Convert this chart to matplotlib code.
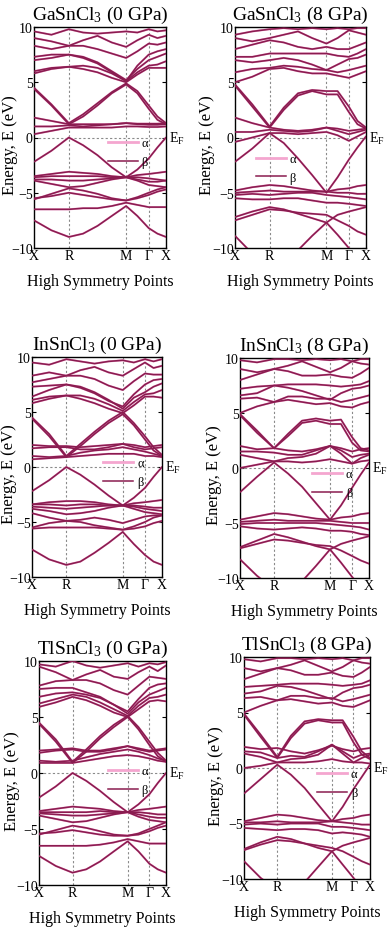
import matplotlib
matplotlib.use("Agg")
import matplotlib.pyplot as plt
from matplotlib.lines import Line2D

plt.rcParams['font.family'] = ['Liberation Serif', 'DejaVu Serif']
plt.rcParams['mathtext.fontset'] = 'custom'
plt.rcParams['mathtext.rm'] = 'Liberation Serif'
plt.rcParams['mathtext.it'] = 'Liberation Serif:italic'

# k-path sample positions (fraction of path) and high-symmetry labels
k_path = [0.0, 0.132, 0.264, 0.372, 0.481, 0.589, 0.698, 0.783, 0.869, 0.935, 1.0]
hs_pos = [0.0, 0.264, 0.698, 0.869, 1.0]
hs_labels = ['X', 'R', 'M', 'Γ', 'X']
yticks = [-10, -5, 0, 5, 10]

titles = ['GaSnCl$_3$ (0 GPa)', 'GaSnCl$_3$ (8 GPa)',
          'InSnCl$_3$ (0 GPa)', 'InSnCl$_3$ (8 GPa)',
          'TlSnCl$_3$ (0 GPa)', 'TlSnCl$_3$ (8 GPa)']

ga0_bands = [
    [-7.5, -8.4, -9.0, -8.7, -8.0, -7.1, -6.2, -7.1, -8.2, -8.7, -9.0],
    [-6.5, -6.5, -6.5, -6.4, -6.4, -6.2, -5.9, -6.1, -6.3, -6.3, -6.3],
    [-5.6, -5.1, -4.6, -4.8, -5.1, -5.5, -5.7, -5.4, -5.0, -4.7, -4.5],
    [-5.5, -5.3, -5.0, -5.2, -5.4, -5.6, -5.7, -5.5, -5.2, -4.9, -4.7],
    [-3.9, -4.2, -4.5, -4.4, -4.1, -3.8, -3.6, -3.9, -4.3, -4.4, -4.5],
    [-3.8, -3.8, -3.9, -3.9, -3.8, -3.7, -3.6, -3.8, -4.0, -4.0, -3.9],
    [-3.6, -3.5, -3.5, -3.5, -3.5, -3.6, -3.6, -3.6, -3.7, -3.8, -3.9],
    [-3.5, -3.3, -3.1, -3.2, -3.3, -3.5, -3.6, -3.4, -3.3, -3.2, -3.1],
    [-2.2, -1.2, 0.0, -0.7, -1.6, -2.7, -3.6, -2.9, -1.9, -0.9, 0.0],
    [0.3, 0.6, 0.9, 0.9, 0.9, 0.9, 1.0, 1.0, 0.95, 0.95, 1.0],
    [1.0, 1.0, 1.1, 1.0, 1.1, 1.2, 1.3, 1.2, 1.15, 1.15, 1.2],
    [1.8, 1.5, 1.2, 1.2, 1.2, 1.2, 1.3, 1.25, 1.25, 1.25, 1.3],
    [4.4, 2.9, 1.2, 1.9, 2.9, 4.0, 4.8, 4.0, 2.6, 1.6, 1.2],
    [4.5, 3.0, 1.3, 2.1, 3.1, 4.1, 4.9, 4.2, 2.9, 1.9, 1.3],
    [5.8, 6.2, 6.4, 6.2, 5.9, 5.4, 5.0, 5.7, 6.3, 6.3, 6.3],
    [6.0, 6.3, 6.4, 6.5, 6.3, 5.8, 5.1, 5.9, 6.5, 6.6, 6.9],
    [7.0, 7.2, 7.5, 7.3, 6.8, 6.0, 5.2, 6.2, 7.0, 7.3, 7.6],
    [7.3, 7.5, 7.5, 7.2, 6.7, 5.9, 5.1, 6.5, 7.5, 7.8, 8.0],
    [8.3, 8.0, 8.3, 8.3, 8.0, 7.6, 7.2, 7.8, 8.5, 8.4, 8.6],
    [9.0, 8.7, 8.3, 8.8, 9.2, 8.6, 8.2, 8.8, 9.3, 9.0, 9.2],
    [9.6, 9.3, 9.8, 9.5, 9.4, 9.5, 9.6, 9.5, 9.8, 9.6, 9.7],
]

ga8_bands = [
    [-8.9, -10.5, -11.5, -11.0, -10.2, -8.9, -7.7, -8.8, -10.0, -10.8, -11.5],
    [-7.5, -7.0, -6.5, -6.6, -6.8, -6.9, -7.0, -7.5, -8.0, -8.5, -8.8],
    [-7.2, -6.7, -6.3, -6.5, -6.9, -7.3, -7.7, -7.0, -6.7, -6.5, -6.3],
    [-5.5, -5.6, -5.6, -5.5, -5.5, -5.7, -5.9, -5.9, -6.0, -6.1, -6.2],
    [-5.2, -5.1, -5.2, -5.1, -5.0, -5.0, -5.2, -5.3, -5.4, -5.5, -5.6],
    [-5.0, -4.9, -4.8, -4.9, -4.9, -4.9, -4.9, -5.0, -5.0, -5.1, -5.1],
    [-4.8, -4.5, -4.3, -4.4, -4.6, -4.8, -4.9, -4.7, -4.6, -4.4, -4.3],
    [-2.2, -1.0, 0.4, -0.5, -1.9, -3.4, -5.0, -3.6, -2.0, -0.9, 0.1],
    [-0.4, 0.0, 0.4, 0.4, 0.3, 0.4, 0.5, 0.2, -0.3, 0.1, 0.5],
    [0.5, 0.5, 0.7, 0.6, 0.5, 0.6, 0.9, 0.6, 0.3, 0.5, 0.7],
    [1.8, 1.3, 0.9, 0.7, 0.6, 0.7, 0.9, 0.8, 0.6, 0.7, 0.8],
    [4.7, 2.8, 0.9, 2.5, 3.8, 4.2, 3.9, 3.9, 2.3, 1.2, 0.8],
    [4.8, 3.0, 1.0, 2.7, 4.0, 4.3, 4.2, 4.2, 2.8, 1.5, 0.9],
    [5.0, 5.5, 6.2, 6.3, 6.0, 5.8, 5.8, 5.6, 5.4, 5.7, 6.0],
    [5.9, 6.2, 6.3, 6.5, 6.4, 6.2, 6.1, 5.9, 6.1, 6.3, 6.5],
    [7.0, 6.8, 7.0, 7.2, 7.0, 6.6, 6.1, 6.6, 7.1, 7.2, 7.5],
    [7.3, 7.3, 7.6, 7.6, 7.6, 7.6, 7.6, 7.4, 7.3, 7.6, 8.0],
    [8.0, 8.4, 8.8, 8.6, 8.2, 8.0, 8.2, 8.0, 8.0, 8.3, 8.6],
    [9.0, 8.7, 9.0, 9.3, 9.6, 9.0, 8.5, 9.0, 9.7, 9.5, 9.3],
    [9.3, 9.6, 9.8, 9.9, 9.8, 9.9, 9.8, 9.9, 9.8, 9.9, 9.9],
]

in0_bands = [
    [-7.5, -8.4, -8.9, -8.6, -7.8, -6.9, -5.9, -7.0, -8.0, -8.6, -8.9],
    [-5.5, -5.1, -4.9, -5.0, -5.3, -5.5, -5.7, -5.6, -5.4, -5.1, -4.9],
    [-5.6, -5.5, -5.5, -5.5, -5.5, -5.6, -5.7, -5.4, -5.0, -4.6, -4.4],
    [-4.2, -4.6, -4.9, -4.8, -4.6, -4.8, -5.1, -4.8, -4.5, -4.4, -4.4],
    [-3.8, -4.0, -4.3, -4.2, -4.0, -3.7, -3.5, -3.8, -4.1, -4.2, -4.3],
    [-3.6, -3.7, -3.8, -3.7, -3.6, -3.5, -3.5, -3.6, -3.8, -3.9, -4.0],
    [-3.4, -3.4, -3.5, -3.4, -3.4, -3.5, -3.5, -3.5, -3.6, -3.7, -3.7],
    [-3.4, -3.2, -3.1, -3.1, -3.2, -3.4, -3.5, -3.3, -3.2, -3.1, -3.0],
    [-2.2, -1.2, 0.0, -0.7, -1.6, -2.6, -3.5, -2.8, -1.9, -0.9, 0.0],
    [0.7, 0.8, 0.9, 1.0, 1.1, 1.2, 1.2, 1.2, 1.0, 1.0, 0.9],
    [1.0, 0.9, 1.0, 1.3, 1.5, 1.6, 1.8, 1.6, 1.4, 1.2, 1.0],
    [1.7, 1.8, 1.8, 1.6, 1.6, 1.8, 2.1, 1.8, 1.6, 1.7, 1.8],
    [2.0, 1.9, 1.9, 1.8, 1.9, 2.0, 2.1, 2.0, 1.8, 1.9, 2.0],
    [4.4, 2.8, 0.9, 1.9, 3.0, 4.0, 4.8, 3.8, 2.5, 1.5, 1.0],
    [4.5, 3.0, 1.0, 2.1, 3.2, 4.2, 5.0, 4.0, 2.8, 1.8, 1.1],
    [5.8, 6.2, 6.5, 6.2, 5.8, 5.3, 4.9, 5.6, 6.4, 6.4, 6.3],
    [6.1, 6.4, 6.5, 6.5, 6.2, 5.7, 5.1, 5.9, 6.6, 6.7, 7.0],
    [6.4, 7.0, 7.5, 7.3, 6.8, 6.1, 5.3, 6.3, 6.8, 7.3, 7.6],
    [7.3, 7.4, 7.5, 7.2, 6.7, 6.0, 5.5, 6.6, 7.5, 7.9, 8.0],
    [7.7, 8.0, 8.3, 8.3, 8.0, 7.4, 7.0, 7.8, 8.5, 8.4, 8.4],
    [8.3, 8.6, 8.3, 8.8, 9.1, 8.6, 8.3, 8.9, 9.5, 9.0, 9.2],
    [9.5, 9.3, 9.8, 9.6, 9.4, 9.6, 9.7, 9.5, 9.8, 9.6, 9.8],
]

in8_bands = [
    [-8.3, -9.8, -11.0, -11.0, -10.3, -8.9, -7.4, -8.6, -9.9, -10.8, -11.5],
    [-7.3, -6.9, -6.5, -6.6, -6.8, -7.0, -7.1, -7.5, -8.0, -8.4, -8.7],
    [-7.2, -6.6, -6.0, -6.3, -6.7, -7.1, -7.4, -6.9, -6.6, -6.4, -6.2],
    [-5.3, -5.5, -5.6, -5.5, -5.4, -5.5, -5.7, -5.7, -5.8, -6.0, -6.1],
    [-5.1, -5.0, -5.0, -5.0, -5.0, -5.0, -5.1, -5.2, -5.3, -5.4, -5.6],
    [-4.9, -4.8, -4.7, -4.8, -4.8, -4.8, -4.8, -4.9, -5.0, -5.0, -5.0],
    [-4.7, -4.4, -4.1, -4.2, -4.4, -4.6, -4.7, -4.5, -4.4, -4.2, -4.1],
    [-2.2, -0.8, 0.5, -0.5, -1.7, -3.2, -4.7, -3.4, -1.8, -0.6, 0.5],
    [0.0, 0.3, 0.6, 0.6, 0.5, 0.6, 0.8, 0.6, 0.4, 0.6, 0.7],
    [1.2, 0.9, 0.6, 0.9, 1.0, 1.3, 2.0, 1.3, 0.4, 0.9, 1.2],
    [1.5, 1.5, 1.4, 1.2, 1.2, 1.6, 2.0, 1.6, 1.0, 1.2, 1.3],
    [2.0, 1.7, 1.8, 1.6, 1.5, 1.7, 2.0, 1.8, 1.5, 1.7, 1.8],
    [4.8, 3.2, 1.8, 2.9, 4.1, 4.3, 4.0, 4.0, 2.3, 1.6, 1.5],
    [4.9, 3.4, 1.8, 3.1, 4.3, 4.5, 4.3, 4.4, 2.8, 1.8, 1.6],
    [5.0, 5.6, 6.0, 6.2, 6.0, 5.8, 5.9, 5.6, 5.5, 5.8, 6.0],
    [6.3, 6.4, 6.0, 6.5, 6.5, 6.3, 6.3, 6.0, 6.2, 6.4, 6.6],
    [6.6, 6.8, 7.5, 7.3, 7.0, 6.6, 6.2, 6.8, 7.2, 7.3, 7.5],
    [7.2, 7.4, 7.5, 7.6, 7.6, 7.6, 7.5, 7.4, 7.5, 7.6, 7.9],
    [8.0, 8.5, 9.0, 8.8, 8.4, 8.4, 8.5, 8.3, 8.2, 8.6, 9.1],
    [9.0, 8.7, 9.0, 9.3, 9.7, 9.2, 8.7, 9.1, 9.7, 9.5, 9.4],
    [9.8, 9.6, 9.9, 9.9, 9.8, 9.9, 9.8, 9.9, 9.7, 9.9, 9.9],
]

tl0_bands = [
    [-7.4, -8.3, -8.9, -8.6, -7.9, -7.0, -6.1, -7.0, -8.1, -8.6, -8.9],
    [-6.5, -6.5, -6.5, -6.5, -6.4, -6.2, -5.9, -6.1, -6.3, -6.3, -6.3],
    [-5.5, -5.1, -4.7, -4.9, -5.2, -5.5, -5.6, -5.4, -5.0, -4.7, -4.4],
    [-5.4, -5.3, -5.1, -5.3, -5.5, -5.6, -5.6, -5.5, -5.2, -4.9, -4.7],
    [-3.8, -4.1, -4.4, -4.3, -4.0, -3.7, -3.5, -3.9, -4.2, -4.3, -4.4],
    [-3.6, -3.7, -3.8, -3.8, -3.7, -3.6, -3.5, -3.7, -3.9, -4.0, -4.0],
    [-3.5, -3.5, -3.5, -3.5, -3.4, -3.5, -3.5, -3.5, -3.6, -3.7, -3.7],
    [-3.4, -3.2, -3.0, -3.1, -3.2, -3.4, -3.5, -3.3, -3.2, -3.1, -3.0],
    [-2.2, -1.2, 0.0, -0.7, -1.6, -2.6, -3.5, -2.8, -1.9, -0.9, 0.0],
    [0.9, 0.9, 0.9, 1.1, 1.3, 1.5, 1.6, 1.5, 1.3, 1.1, 1.0],
    [1.1, 1.0, 1.1, 1.4, 1.7, 1.9, 2.1, 1.9, 1.6, 1.3, 1.1],
    [1.8, 2.0, 2.1, 1.9, 1.9, 2.1, 2.4, 2.1, 1.9, 2.0, 2.1],
    [2.0, 2.1, 2.2, 2.0, 2.0, 2.2, 2.4, 2.2, 2.0, 2.1, 2.2],
    [4.4, 2.8, 0.9, 1.9, 3.1, 4.1, 5.0, 3.9, 2.5, 1.5, 1.0],
    [4.5, 3.0, 1.0, 2.1, 3.3, 4.3, 5.1, 4.1, 2.8, 1.8, 1.1],
    [5.9, 6.3, 6.8, 6.5, 6.0, 5.4, 5.0, 5.7, 6.4, 6.5, 6.4],
    [6.2, 6.6, 7.0, 6.8, 6.3, 5.7, 5.1, 6.0, 6.7, 6.8, 7.0],
    [6.8, 7.1, 7.2, 7.0, 6.7, 6.1, 5.3, 6.3, 7.0, 7.3, 7.6],
    [7.5, 7.6, 7.6, 7.2, 6.8, 6.1, 5.5, 6.6, 7.6, 7.9, 8.0],
    [7.8, 8.2, 8.3, 8.3, 8.0, 7.4, 7.0, 7.8, 8.6, 8.5, 8.4],
    [9.5, 9.0, 8.3, 8.8, 9.2, 8.6, 8.4, 9.0, 9.5, 9.1, 9.6],
    [9.7, 9.5, 10.0, 9.6, 9.4, 9.6, 9.8, 9.5, 9.8, 9.7, 9.9],
]

tl8_bands = [
    [-8.4, -9.9, -11.0, -11.0, -10.3, -8.9, -7.5, -8.7, -9.9, -10.8, -11.5],
    [-7.4, -6.9, -6.5, -6.6, -6.8, -7.0, -7.2, -7.5, -8.0, -8.4, -8.7],
    [-7.3, -6.7, -6.2, -6.4, -6.8, -7.2, -7.5, -7.0, -6.7, -6.5, -6.3],
    [-5.4, -5.5, -5.6, -5.5, -5.5, -5.6, -5.9, -5.8, -5.9, -6.0, -6.2],
    [-5.1, -5.0, -5.1, -5.0, -5.0, -5.0, -5.3, -5.3, -5.4, -5.5, -5.6],
    [-4.9, -4.9, -4.8, -4.9, -4.9, -4.9, -4.8, -4.9, -5.0, -5.1, -5.1],
    [-4.8, -4.5, -4.2, -4.3, -4.5, -4.7, -4.8, -4.6, -4.5, -4.3, -4.2],
    [-2.3, -1.0, 0.3, -0.6, -1.8, -3.3, -4.8, -3.5, -1.9, -0.8, 0.3],
    [0.0, 0.2, 0.5, 0.5, 0.5, 0.6, 0.8, 0.6, 0.5, 0.5, 0.4],
    [1.3, 1.0, 0.5, 0.8, 0.9, 1.2, 2.1, 1.3, 0.5, 0.9, 1.2],
    [1.5, 1.4, 0.9, 1.1, 1.0, 1.5, 2.1, 1.5, 0.9, 1.2, 1.3],
    [1.9, 1.7, 1.8, 1.5, 1.3, 1.6, 2.0, 1.7, 1.5, 1.7, 1.8],
    [4.8, 2.8, 0.9, 2.7, 4.0, 4.3, 4.1, 4.1, 2.3, 1.2, 0.8],
    [4.9, 3.0, 1.0, 2.9, 4.2, 4.4, 4.3, 4.3, 2.8, 1.5, 0.9],
    [5.0, 5.6, 6.1, 6.2, 6.0, 5.8, 5.9, 5.6, 5.5, 5.8, 6.1],
    [6.3, 6.4, 6.1, 6.5, 6.5, 6.3, 6.3, 6.0, 6.2, 6.4, 6.6],
    [6.7, 6.9, 7.4, 7.3, 7.0, 6.6, 6.2, 6.8, 7.2, 7.3, 7.5],
    [7.3, 7.4, 7.5, 7.6, 7.6, 7.6, 7.5, 7.4, 7.5, 7.6, 7.9],
    [8.0, 8.5, 9.0, 8.8, 8.4, 8.4, 8.6, 8.3, 8.2, 8.6, 9.1],
    [9.0, 8.7, 9.0, 9.3, 9.7, 9.2, 8.7, 9.1, 9.7, 9.5, 9.4],
    [9.8, 9.6, 9.9, 9.9, 9.8, 9.9, 9.8, 9.9, 9.7, 9.9, 9.9],
]

panel_bands = [ga0_bands, ga8_bands, in0_bands, in8_bands, tl0_bands, tl8_bands]

# axes boxes in pixels (left, top, right, bottom)
W, H = 392, 928
boxes = [(34, 28, 166, 249), (235, 28, 366, 249),
         (32, 358, 162, 578), (240, 359, 369, 579),
         (39, 662, 166, 886), (244, 658, 370, 880)]
# ylabel right edge (pixels) per panel
ylabel_right = [18, 215, 17, 222, 20, 224]
legend_xy = [(0.56, 0.50), (0.16, 0.43), (0.55, 0.545), (0.56, 0.50), (0.54, 0.535), (0.58, 0.50)]

beta_c = '#8A1C50'
alpha_c = '#F4A6CF'
grid_c = '#8a8a8a'

fig = plt.figure(figsize=(W / 100, H / 100), dpi=100)

for i, (bands, box) in enumerate(zip(panel_bands, boxes)):
    l, t, r, b = box
    ax = fig.add_axes([l / W, 1 - b / H, (r - l) / W, (b - t) / H])
    for e in bands:
        ax.plot(k_path, e, color=alpha_c, lw=1.5, solid_capstyle='round', zorder=2)
    for e in bands:
        ax.plot(k_path, e, color=beta_c, lw=1.15, solid_capstyle='round', zorder=3)
    for p in hs_pos[1:-1]:
        ax.axvline(p, color=grid_c, lw=0.8, ls=(0, (2, 2)), zorder=1)
    ax.axhline(0, color=grid_c, lw=0.8, ls=(0, (2, 2)), zorder=1)
    ax.set_xlim(0, 1)
    ax.set_ylim(-10, 10)
    ax.set_xticks(hs_pos)
    ax.set_xticklabels(hs_labels, fontsize=10)
    ax.set_yticks(yticks)
    ax.set_yticklabels([str(v).replace('-', '\u2212') for v in yticks], fontsize=10)
    ax.tick_params(axis='x', length=0, pad=1)
    ax.tick_params(axis='y', direction='in', length=3, right=True, pad=1)
    for s in ax.spines.values():
        s.set_linewidth(1.0)
    ax.set_title(titles[i], fontsize=14, pad=6)
    ax.set_xlabel('High Symmetry Points', fontsize=11.5, labelpad=8)
    ax.set_ylabel('Energy, E (eV)', fontsize=12)
    ax.yaxis.set_label_coords((ylabel_right[i] - l) / (r - l), 0.47)
    ax.text(1.02, 0, 'E$_\\mathrm{F}$', transform=ax.get_yaxis_transform(),
            fontsize=10, va='center', ha='left')
    handles = [Line2D([], [], color=alpha_c, lw=2.0), Line2D([], [], color=beta_c, lw=1.1)]
    lx, ly = legend_xy[i]
    ax.legend(handles, ['α', 'β'], loc='upper left', bbox_to_anchor=(lx, ly),
              frameon=False, fontsize=9, handlelength=2.4, handletextpad=0.3,
              borderpad=0, borderaxespad=0, labelspacing=0.55)

fig.savefig('out.png', dpi=100)
